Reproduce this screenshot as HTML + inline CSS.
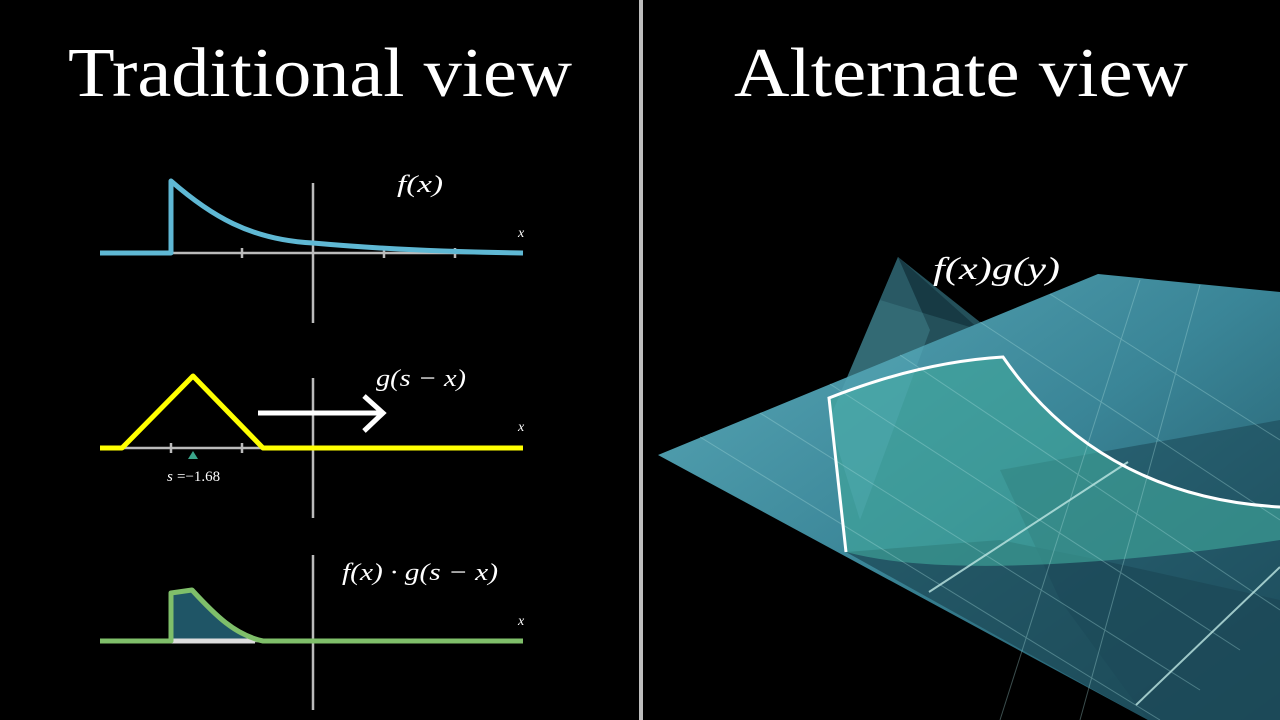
<!DOCTYPE html>
<html><head><meta charset="utf-8"><style>
html,body{margin:0;padding:0;background:#000;}
svg{display:block}
text{font-family:"Liberation Serif",serif;fill:#fff}
.m{font-style:italic}
</style></head><body>
<svg width="1280" height="720" viewBox="0 0 1280 720" xmlns="http://www.w3.org/2000/svg">
<rect width="1280" height="720" fill="#000"/>
<rect x="639" y="0" width="4" height="720" fill="#bdbdbd"/>
<text x="68" y="96" font-size="70" textLength="504" lengthAdjust="spacingAndGlyphs">Traditional view</text>
<text x="734" y="96" font-size="70" textLength="454" lengthAdjust="spacingAndGlyphs">Alternate view</text>

<!-- Graph 1 -->
<g stroke="#bbb" stroke-width="2.5">
<line x1="100" y1="253" x2="523" y2="253"/>
<line x1="313" y1="183" x2="313" y2="323"/>
<line x1="242" y1="248" x2="242" y2="258"/><line x1="384" y1="248" x2="384" y2="258"/><line x1="455" y1="248" x2="455" y2="258"/>
</g>
<path d="M100 253 L171 253 L171 181 C210 215 250 240 313 243 C380 249 450 252 523 253" fill="none" stroke="#5fb8d4" stroke-width="5" stroke-linejoin="round"/>
<text class="m" x="397" y="192" font-size="24" textLength="46" lengthAdjust="spacingAndGlyphs">f(x)</text>
<text class="m" x="518" y="237" font-size="14">x</text>

<!-- Graph 2 -->
<g stroke="#bbb" stroke-width="2.5">
<line x1="100" y1="448" x2="523" y2="448"/>
<line x1="313" y1="378" x2="313" y2="518"/>
<line x1="171" y1="443" x2="171" y2="453"/><line x1="242" y1="443" x2="242" y2="453"/>
</g>
<path d="M100 448 L122 448 L193 376 L263 448 L523 448" fill="none" stroke="#ffff00" stroke-width="5" stroke-linejoin="round"/>
<path d="M188 459 L193 451 L198 459 Z" fill="#3aa58a"/>
<text class="m" x="167" y="481" font-size="15">s</text><text x="177" y="481" font-size="15">=−1.68</text>
<line x1="258" y1="413" x2="380" y2="413" stroke="#fff" stroke-width="5"/>
<path d="M364 396 L383 413 L364 431" fill="none" stroke="#fff" stroke-width="5"/>
<text class="m" x="376" y="386" font-size="24" textLength="90" lengthAdjust="spacingAndGlyphs">g(s − x)</text>
<text class="m" x="518" y="431" font-size="14">x</text>

<!-- Graph 3 -->
<g stroke="#bbb" stroke-width="2.5">
<line x1="100" y1="641" x2="523" y2="641"/>
<line x1="313" y1="555" x2="313" y2="710"/>
</g>
<path d="M171 641 L171 593 L192 590 C215 615 235 635 263 641 Z" fill="#1f5566"/>
<line x1="171" y1="641" x2="255" y2="641" stroke="#ddd" stroke-width="5"/>
<path d="M100 641 L171 641 L171 593 L192 590 C215 615 235 635 263 641 L523 641" fill="none" stroke="#7fbf6a" stroke-width="5" stroke-linejoin="round"/>
<text class="m" x="342" y="580" font-size="24" textLength="156" lengthAdjust="spacingAndGlyphs">f(x) · g(s − x)</text>
<text class="m" x="518" y="625" font-size="14">x</text>

<!-- 3D right -->
<defs>
<linearGradient id="pl" x1="0" y1="0" x2="1" y2="1">
<stop offset="0" stop-color="#5aa9b8"/><stop offset="0.5" stop-color="#3a8597"/><stop offset="1" stop-color="#1d4f5e"/>
</linearGradient>
</defs>
<polygon points="898,257 829,420 990,330" fill="#24505a"/>
<polygon points="898,257 880,300 980,330" fill="#173a44"/>
<polygon points="658,455 1098,274 1280,292 1280,720 1148,720" fill="url(#pl)"/>
<polygon points="846,552 1000,540 1100,560 1280,600 1280,720 1148,720" fill="#1c4855" opacity="0.75"/>
<polygon points="1000,470 1280,420 1280,720 1148,720 1060,600" fill="#1d4a58" opacity="0.6"/>
<path d="M829 398 Q920 362 1003 357 C1060 440 1150 500 1280 507 L1280 540 C1150 560 950 580 846 552 Z" fill="#3fa59a" opacity="0.65"/>
<polygon points="898,257 829,420 860,520 930,330" fill="#5fb6c2" opacity="0.25"/>
<g stroke="#a8dcdc" stroke-width="1" opacity="0.35">
<line x1="700" y1="437" x2="1160" y2="720"/><line x1="760" y1="413" x2="1200" y2="690"/>
<line x1="830" y1="384" x2="1240" y2="650"/><line x1="900" y1="355" x2="1280" y2="610"/>
<line x1="980" y1="322" x2="1280" y2="520"/><line x1="1050" y1="294" x2="1280" y2="440"/>
<line x1="1140" y1="280" x2="1000" y2="720"/><line x1="1200" y1="285" x2="1080" y2="720"/>
</g>
<g stroke="#bfe8e4" stroke-width="2" opacity="0.8">
<line x1="929" y1="592" x2="1128" y2="462"/>
<line x1="1136" y1="705" x2="1280" y2="567"/>
</g>
<path d="M846 552 L829 398 Q920 362 1003 357 C1060 440 1150 500 1280 507" fill="none" stroke="#fff" stroke-width="3"/>
<text class="m" x="933" y="279" font-size="32" textLength="127" lengthAdjust="spacingAndGlyphs">f(x)g(y)</text>
</svg>
</body></html>
